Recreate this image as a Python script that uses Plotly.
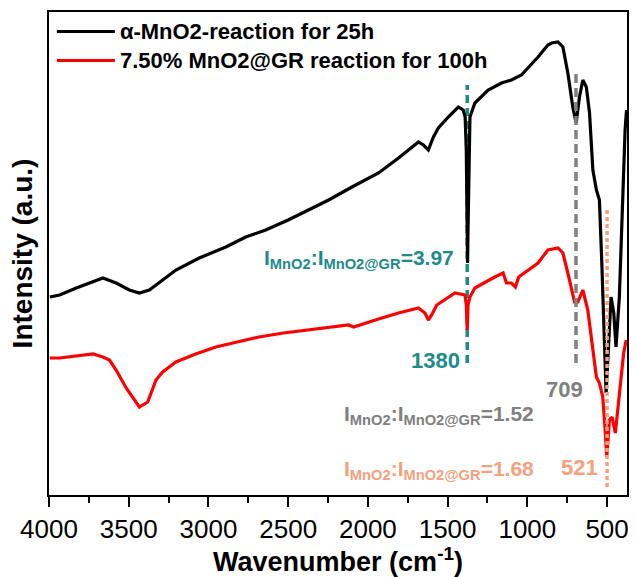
import plotly.graph_objects as go

# ---------------- data ----------------
black_wn = [3995, 3933, 3829, 3725, 3662, 3579, 3496, 3433, 3371, 3287, 3204, 3058, 2891, 2766,
            2641, 2500, 2371, 2246, 2100, 1933, 1808, 1723, 1683, 1652, 1621, 1589, 1558, 1496,
            1433, 1402, 1390, 1383, 1378, 1375, 1372, 1367, 1360, 1329, 1246, 1162, 1100, 1037,
            990, 933, 871, 848, 808, 777, 746, 715, 694, 673, 652, 630, 610, 589, 567, 548, 533,
            516, 506, 491, 475, 458, 444, 423, 402, 387, 378]
black_int = [198, 200, 207, 213, 217, 212, 205, 202, 205, 215, 225, 237, 248, 258,
             265, 275, 285, 295, 308, 322, 337, 348, 353, 350, 345, 358, 367, 378,
             388, 385, 378, 345, 265, 232, 265, 345, 378, 392, 405, 412, 415, 420,
             428, 438, 450, 452, 453, 448, 422, 388, 372, 398, 415, 408, 382, 325, 305, 295, 232,
             148, 102, 148, 198, 182, 148, 198, 298, 365, 385]

red_wn = [3995, 3933, 3724, 3662, 3621, 3579, 3516, 3433, 3381, 3329, 3287, 3204, 3080, 2954,
          2820, 2683, 2530, 2371, 2240, 2121, 2089, 2000, 1933, 1871, 1808, 1683, 1642, 1621,
          1600, 1568, 1454, 1391, 1383, 1377, 1372, 1360, 1329, 1204, 1152, 1131, 1100, 1075,
          1054, 933, 871, 808, 777, 746, 704, 683, 652, 621, 589, 567, 548, 527, 512, 502, 485,
          469, 448, 423, 396, 380]
red_int = [137, 137, 141, 138, 135, 125, 107, 88, 93, 115, 123, 133, 141, 148,
           153, 158, 162, 165, 168, 170, 168, 173, 176, 179, 182, 187, 182, 175,
           180, 190, 202, 200, 190, 165, 190, 198, 207, 218, 222, 212, 212, 208,
           218, 232, 245, 247, 242, 222, 193, 193, 205, 185, 148, 118, 112, 98, 65, 38, 75,
           78, 62, 98, 142, 155]

series_names = ["α-MnO2-reaction for 25h", "7.50% MnO2@GR reaction for 100h"]

# marker lines: drawn position, label, ratio, vertical extent
peak_line_x = [1377, 695, 500]
peak_labels = ["1380", "709", "521"]
ratio_values = ["3.97", "1.52", "1.68"]
line_y_top = [410, 425, 285]
line_y_bottom = [132, 132, 8]

x_tick_vals = [4000, 3500, 3000, 2500, 2000, 1500, 1000, 500]

# ---------------- styling ----------------
TEAL = "#1E8A8A"
GREY = "#808080"
SALMON = "#F5A07E"
FONT = "Liberation Sans"

def legend_label(s):
    return '<span style="font-size:22px">' + s + '</span>'

fig = go.Figure()
fig.add_trace(go.Scatter(x=black_wn, y=black_int, mode="lines", name=legend_label(series_names[0]),
                         line=dict(color="black", width=3.2)))
fig.add_trace(go.Scatter(x=red_wn, y=red_int, mode="lines", name=legend_label(series_names[1]),
                         line=dict(color="#FF0000", width=3.2)))

line_styles = [(TEAL, "8px,5px", "below"), (GREY, "9px,5px", "above"), (SALMON, "4px,3px", "above")]
for i, (col, dash, layer) in enumerate(line_styles):
    fig.add_shape(type="line", xref="x", yref="y",
                  x0=peak_line_x[i], x1=peak_line_x[i], y0=line_y_bottom[i], y1=line_y_top[i],
                  line=dict(color=col, width=3.5, dash=dash), layer=layer)

def ratio_text(v):
    return ("<b>I<sub>MnO2</sub>:I<sub>MnO2@GR</sub>=" + v + "</b>")

# ratio annotations (right edge x, middle y)
ratio_pos = [(1446, 236), (946, 80), (946, 25)]
cols = [TEAL, GREY, SALMON]
for i in range(3):
    fig.add_annotation(x=ratio_pos[i][0], y=ratio_pos[i][1], xref="x", yref="y",
                       text=ratio_text(ratio_values[i]), showarrow=False,
                       xanchor="right", yanchor="middle",
                       font=dict(family=FONT, size=21, color=cols[i]))

label_pos = [(1574, 135), (767, 106), (674, 28)]
for i in range(3):
    fig.add_annotation(x=label_pos[i][0], y=label_pos[i][1], xref="x", yref="y",
                       text="<b>" + peak_labels[i] + "</b>", showarrow=False,
                       xanchor="center", yanchor="middle",
                       font=dict(family=FONT, size=22, color=cols[i]))

fig.update_layout(
    width=636, height=577,
    margin=dict(l=49, r=7, t=12, b=82),
    paper_bgcolor="white", plot_bgcolor="white",
    font=dict(family=FONT, color="black"),
    showlegend=True,
    legend=dict(x=0.005, y=1.0, xanchor="left", yanchor="top",
                font=dict(family=FONT, size=20, color="black", weight="bold"),
                bgcolor="rgba(0,0,0,0)", tracegroupgap=0,
                itemwidth=58),
    xaxis=dict(range=[4000, 375], autorange=False,
               tickmode="array", tickvals=x_tick_vals,
               ticks="outside", ticklen=10, tickwidth=2, tickcolor="black",
               minor=dict(dtick=250, tick0=0, ticks="outside", ticklen=6, tickwidth=2, tickcolor="black"),
               showline=True, linecolor="black", linewidth=2, mirror=True,
               showgrid=False, zeroline=False,
               tickfont=dict(family=FONT, size=26, color="black"),
               title=dict(text="<b>Wavenumber (cm<sup>-1</sup>)</b>",
                          font=dict(family=FONT, size=27, color="black"), standoff=1)),
    yaxis=dict(range=[0, 483], autorange=False,
               showticklabels=False, ticks="",
               showline=True, linecolor="black", linewidth=2, mirror=True,
               showgrid=False, zeroline=False,
               title=dict(text="<b>Intensity (a.u.)</b>",
                          font=dict(family=FONT, size=28, color="black"), standoff=6)),
)

fig.write_html("out.html")
